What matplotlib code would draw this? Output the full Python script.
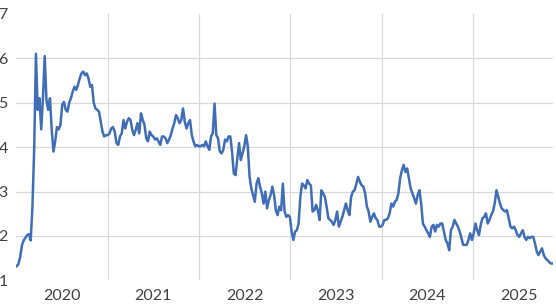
import pandas as pd
import matplotlib
matplotlib.use('Agg')
import matplotlib.pyplot as plt

# weekly readings, first week of Jan 2020 to mid Nov 2025
start = '2020-01-03'
v2020 = [1.32, 1.37, 1.53, 1.79, 1.9, 1.96, 2.02, 2.04, 1.9, 2.66,
         3.97, 6.1, 4.84, 5.1, 4.4, 5.1, 6.05, 5.06, 4.84, 5.1,
         4.4, 3.9, 4.13, 4.45, 4.4, 4.5, 4.95, 5.02, 4.84, 4.8,
         5.0, 5.1, 5.25, 5.36, 5.29, 5.4, 5.55, 5.66, 5.7, 5.62,
         5.66, 5.55, 5.36, 5.4, 5.0, 4.87, 4.84, 4.8, 4.57, 4.35,
         4.24, 4.27]
v2021 = [4.27, 4.31, 4.42, 4.45, 4.35, 4.09, 4.05, 4.24, 4.31, 4.61,
         4.42, 4.57, 4.65, 4.61, 4.39, 4.27, 4.39, 4.54, 4.31, 4.76,
         4.61, 4.5, 4.2, 4.13, 4.35, 4.27, 4.24, 4.17, 4.2, 4.13,
         4.05, 4.24, 4.24, 4.2, 4.09, 4.17, 4.27, 4.42, 4.54, 4.72,
         4.65, 4.54, 4.61, 4.87, 4.57, 4.42, 4.54, 4.61, 4.27, 4.13,
         4.02, 4.05]
v2022 = [4.02, 4.02, 4.05, 4.02, 4.13, 4.02, 3.94, 4.24, 4.31, 4.98,
         4.27, 4.2, 3.9, 3.86, 3.94, 4.17, 4.13, 4.24, 4.24, 3.9,
         3.41, 3.37, 3.75, 4.09, 3.71, 3.86, 4.02, 4.27, 4.02, 3.33,
         3.07, 2.92, 2.77, 3.18, 3.3, 3.11, 2.96, 2.73, 3.0, 2.62,
         2.81, 2.92, 3.11, 2.92, 2.58, 2.47, 2.66, 2.58, 3.18, 2.55,
         2.43, 2.47]
v2023 = [2.43, 2.1, 1.91, 2.1, 2.13, 2.28, 2.88, 3.18, 3.14, 3.07,
         3.26, 3.18, 3.14, 2.55, 2.58, 2.7, 2.58, 2.36, 3.03, 2.96,
         2.88, 2.66, 2.4, 2.36, 2.32, 2.25, 2.36, 2.55, 2.21, 2.32,
         2.43, 2.58, 2.73, 2.58, 2.47, 2.88, 3.0, 3.03, 3.18, 3.33,
         3.22, 3.14, 3.11, 2.96, 2.66, 2.55, 2.32, 2.43, 2.51, 2.4]
v2024 = [2.36, 2.21, 2.21, 2.25, 2.36, 2.36, 2.4, 2.51, 2.73, 2.66,
         2.77, 2.81, 2.96, 3.3, 3.48, 3.6, 3.44, 3.52, 3.3, 3.07,
         2.96, 2.85, 2.73, 2.92, 3.03, 2.73, 2.28, 2.21, 2.13, 2.06,
         1.98, 2.21, 2.25, 2.1, 2.25, 2.21, 2.28, 2.28, 2.1, 1.91,
         1.83, 1.68, 2.13, 2.21, 2.36, 2.28, 2.21, 2.1, 1.95, 1.8,
         1.8]
v2025 = [1.8, 1.91, 2.06, 1.91, 2.06, 2.28, 2.13, 2.02, 2.25, 2.4,
         2.43, 2.51, 2.28, 2.36, 2.47, 2.55, 2.73, 3.03, 2.88, 2.73,
         2.62, 2.58, 2.55, 2.58, 2.4, 2.21, 2.17, 2.21, 2.13, 2.02,
         1.98, 2.06, 2.13, 1.98, 1.91, 1.98, 1.95, 1.98, 1.98, 1.83,
         1.65, 1.57, 1.65, 1.72, 1.57, 1.5, 1.46, 1.42, 1.38, 1.38]

years = [2020, 2021, 2022, 2023, 2024, 2025]
yticks = [1, 2, 3, 4, 5, 6, 7]

values = v2020 + v2021 + v2022 + v2023 + v2024 + v2025
dates = pd.date_range(start, periods=len(values), freq='7D')

plt.rcParams['font.family'] = ['Lato', 'DejaVu Sans']
fig = plt.figure(figsize=(5.56, 3.05), dpi=100)
ax = fig.add_axes([0.0291, 0.0807, 0.9655, 0.8738])

grid_c = '#D9D9D9'
for y in yticks[1:-1]:
    ax.axhline(y, color=grid_c, lw=0.9, zorder=0)
for yr in years[1:]:
    ax.axvline(pd.Timestamp(f'{yr}-01-01'), color=grid_c, lw=0.9, zorder=0)

ax.plot(dates, values, color='#3F6DB8', lw=1.8, zorder=3)

ax.set_xlim(pd.Timestamp('2020-01-01'), dates[-1] + pd.Timedelta(days=2))
ax.set_ylim(1, 7)
ax.set_yticks(yticks)
ax.set_yticklabels([str(t) for t in yticks])
ax.set_xticks([pd.Timestamp(f'{yr}-07-02') for yr in years])
ax.set_xticklabels([str(yr) for yr in years])
ax.tick_params(axis='both', length=0, labelsize=11.5, colors='#404040')
ax.tick_params(axis='y', pad=6)
ax.tick_params(axis='x', pad=6)
for s in ax.spines.values():
    s.set_visible(False)

fig.savefig('out.png', dpi=100)
